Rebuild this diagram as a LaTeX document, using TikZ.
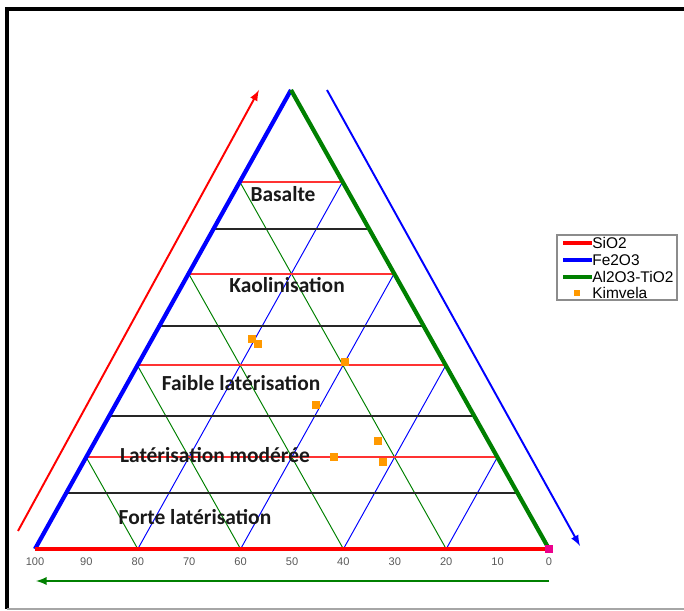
\documentclass[tikz,border=0pt]{standalone}
\usepackage{fontspec}
\setmainfont{Liberation Sans}
\newfontfamily\carlito{Carlito}
\definecolor{kimvela}{RGB}{255,153,0}
\definecolor{darkgreen}{RGB}{0,128,0}
\definecolor{sioline}{RGB}{255,50,50}
\begin{document}
\begin{tikzpicture}[
    x=0.02cm, y=-0.02cm,
    grid/.style={line width=0.55pt},
    band/.style={line width=1.2pt, black!85},
    side/.style={line width=2.4pt},
    axis/.style={-latex, line width=1.1pt},
    zone/.style={font=\carlito\bfseries\fontsize{12.2}{14}\selectfont, text=black!90},
    tick/.style={font=\fontsize{6.3}{7}\selectfont, text=black!65},
    key/.style={font=\fontsize{8.8}{10}\selectfont, anchor=west, inner sep=0pt},
    sample/.style={fill=kimvela, minimum size=4pt, inner sep=0pt},
]
\useasboundingbox (0,0) rectangle (684,611);
% Frame
\draw[line width=1.8pt] (684,9) -- (7,9) -- (7,609);
\draw[black!35, line width=0.8pt] (7,609) -- (684,609);
% Corners of the triangle
\coordinate (L) at (35,549);
\coordinate (R) at (549,549);
\coordinate (T) at (291,90);
% Grid every 20 %
\foreach \v in {0.2,0.4,0.6,0.8} {
  \draw[grid, darkgreen] (barycentric cs:L=\v,R=1-\v) -- (barycentric cs:L=\v,T=1-\v);
  \draw[grid, blue] (barycentric cs:R=\v,L=1-\v) -- (barycentric cs:R=\v,T=1-\v);
}
\foreach \v in {0.2,0.4,0.6,0.8} {
  \draw[sioline, line width=1.2pt] (barycentric cs:L=1-\v,T=\v) -- (barycentric cs:R=1-\v,T=\v);
}
% Limits between the zones
\foreach \v in {0.122,0.29,0.486,0.697} {
  \draw[band] (barycentric cs:L=1-\v,T=\v) -- (barycentric cs:R=1-\v,T=\v);
}
% Sides
\draw[side, blue] (L) -- (T);
\draw[side, darkgreen] (T) -- (R);
\draw[side, red, line width=1.8pt] (L) -- (R);
\node[fill=magenta, minimum size=4pt, inner sep=0pt] (origin) at (R) {};
% Direction of the axes
\coordinate (redA) at (18,531);
\coordinate (redB) at (259,90);
\coordinate (blueA) at (327,90);
\coordinate (blueB) at (580,546);
\coordinate (greenA) at (549,581);
\coordinate (greenB) at (36,581);
\draw[axis, red] (redA) -- (redB);
\draw[axis, blue] (blueA) -- (blueB);
\draw[axis, darkgreen] (greenA) -- (greenB);
% Scale
\foreach \k in {0,...,10} {
  \pgfmathtruncatemacro\lab{10*\k}
  \node[tick] (tick\k) at ({549-51.4*\k},562) {\lab};
}
% Zones
\node[zone] (basalte) at (283,194) {Basalte};
\node[zone] (kaolin) at (287,285) {Kaolinisation};
\node[zone] (faible) at (241,383) {Faible latérisation};
\node[zone] (moderee) at (215,455) {Latérisation modérée};
\node[zone] (forte) at (195,517) {Forte latérisation};
% Samples
\node[sample] (k1) at (252,339) {};
\node[sample] (k2) at (258,344) {};
\node[sample] (k3) at (345,362) {};
\node[sample] (k4) at (316,405) {};
\node[sample] (k5) at (378,441) {};
\node[sample] (k6) at (334,457) {};
\node[sample] (k7) at (383,462) {};
% Legend
\draw[black!45, line width=0.6pt] (557,235) rectangle (677,300);
\node[key] (keysio) at (592,243) {SiO2};
\node[key] (keyfe) at (592,260) {Fe2O3};
\node[key] (keyal) at (592,277) {Al2O3-TiO2};
\node[key] (keykim) at (592,293) {Kimvela};
\draw[red, line width=1.8pt] (563,243) -- (keysio.west);
\draw[blue, line width=1.8pt] (563,260) -- (keyfe.west);
\draw[darkgreen, line width=1.8pt] (563,277) -- (keyal.west);
\node[sample, minimum size=3.5pt] (keysq) at (577,293) {};
\end{tikzpicture}
\end{document}
